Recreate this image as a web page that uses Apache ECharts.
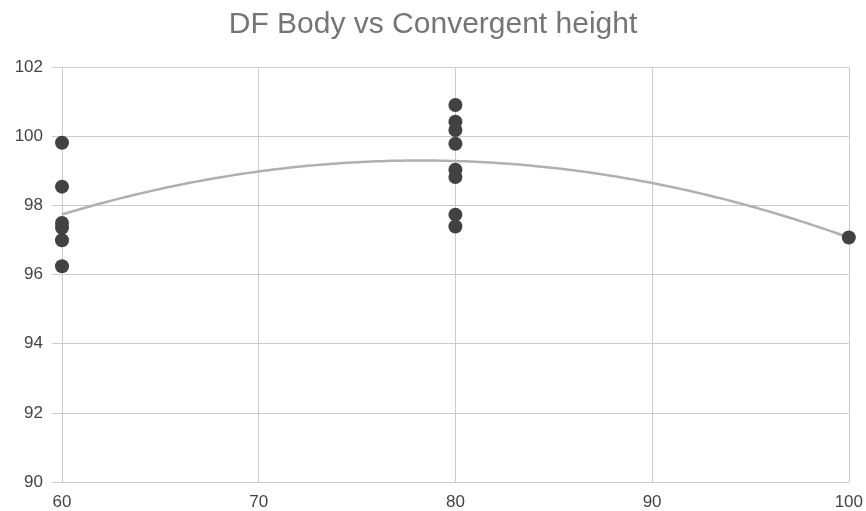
<!DOCTYPE html>
<html><head><meta charset="utf-8">
<script src="https://cdn.jsdelivr.net/npm/echarts@6/dist/echarts.min.js"></script>
<style>html,body{margin:0;padding:0;background:#fff}#c{width:866px;height:511px}</style>
</head><body><div id="c"></div>
<script>
const xValues = [60,60,60,60,60,60, 80,80,80,80,80,80,80,80, 100];
const yValues = [99.81,98.54,97.49,97.35,96.99,96.24, 100.90,100.42,100.18,99.78,99.03,98.82,97.73,97.39, 97.07];
const xTicks = [60,70,80,90,100];
const yTicks = [90,92,94,96,98,100,102];
const titleText = 'DF Body vs Convergent height';

// quadratic least-squares trendline fitted to the data
function fitQuad(xs, ys){
  const n = xs.length; let S=[0,0,0,0,0], T=[0,0,0];
  for(let i=0;i<n;i++){const x=xs[i]-80; let p=1; for(let k=0;k<5;k++){S[k]+=p; if(k<3) T[k]+=p*ys[i]; p*=x;}}
  const A=[[S[0],S[1],S[2],T[0]],[S[1],S[2],S[3],T[1]],[S[2],S[3],S[4],T[2]]];
  for(let i=0;i<3;i++){for(let j=i+1;j<3;j++){const f=A[j][i]/A[i][i]; for(let k=i;k<4;k++) A[j][k]-=f*A[i][k];}}
  const c=[0,0,0]; for(let i=2;i>=0;i--){let s=A[i][3]; for(let k=i+1;k<3;k++) s-=A[i][k]*c[k]; c[i]=s/A[i][i];}
  return x=>{const d=x-80; return c[0]+c[1]*d+c[2]*d*d;};
}
const f = fitQuad(xValues, yValues);
const trend = []; for(let x=60;x<=100;x+=0.5) trend.push([x, f(x)]);
const points = xValues.map((x,i)=>[x, yValues[i]]);

const chart = echarts.init(document.getElementById('c'));
chart.setOption({
  animation:false,
  title:{text:titleText,left:'center',top:5,textStyle:{fontFamily:'"Liberation Sans", Arial, sans-serif',fontWeight:'normal',fontSize:30,color:'#757575'}},
  grid:{left:62,right:17,top:67,bottom:28},
  xAxis:{type:'value',min:xTicks[0],max:xTicks[xTicks.length-1],interval:10,
    axisLine:{show:true,lineStyle:{color:'#cccccc'}},axisTick:{show:false},
    axisLabel:{fontFamily:'"Liberation Sans", Arial, sans-serif',fontSize:17,color:'#444',margin:12},
    splitLine:{show:true,lineStyle:{color:'#cccccc',width:1}}},
  yAxis:{type:'value',min:yTicks[0],max:yTicks[yTicks.length-1],interval:2,
    axisLine:{show:false},axisTick:{show:true,length:10,lineStyle:{color:'#cccccc'}},
    axisLabel:{fontFamily:'"Liberation Sans", Arial, sans-serif',fontSize:17,color:'#444',margin:19},
    splitLine:{show:true,lineStyle:{color:'#cccccc',width:1}}},
  series:[
    {type:'line',data:trend,showSymbol:false,smooth:true,lineStyle:{color:'#b0b0b0',width:2.5},z:1,silent:true},
    {type:'scatter',data:points,symbolSize:14,itemStyle:{color:'#424242',opacity:1},z:2}
  ]
});
</script></body></html>
